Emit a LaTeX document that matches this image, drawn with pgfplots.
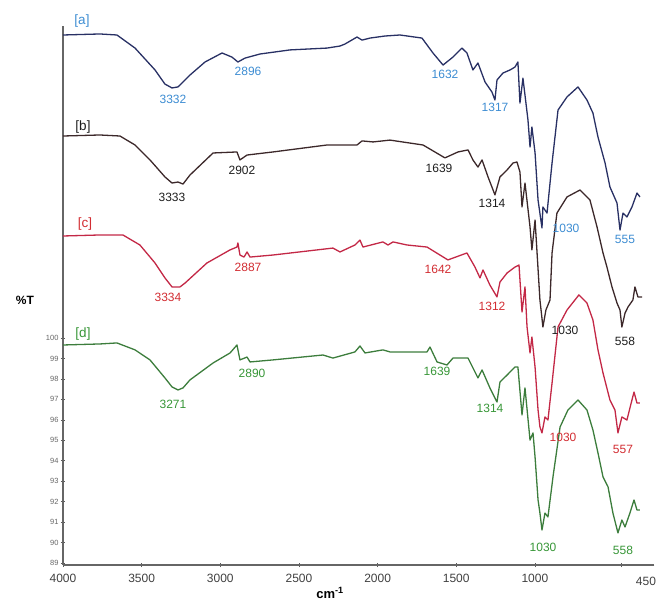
\documentclass[border=0pt]{standalone}
\usepackage{pgfplots}
\pgfplotsset{compat=1.18}
\usepackage{fontspec}
\setmainfont{Liberation Sans}
\definecolor{lineA}{RGB}{40,48,100}
\definecolor{labA}{RGB}{60,140,210}
\definecolor{lineB}{RGB}{60,40,42}
\definecolor{labB}{RGB}{30,30,30}
\definecolor{lineC}{RGB}{195,40,70}
\definecolor{labC}{RGB}{210,45,50}
\definecolor{lineD}{RGB}{60,125,60}
\definecolor{labD}{RGB}{55,150,55}
\begin{document}
\begin{tikzpicture}
\useasboundingbox (0,0) rectangle (658pt,603pt);
\begin{axis}[
  at={(63pt,38pt)}, anchor=south west,
  scale only axis, width=591.45pt, height=539pt,
  x dir=reverse, xmin=240, xmax=4000, ymin=88.9, ymax=115.26,
  axis x line=bottom, axis y line=left,
  axis line style={-, line width=1.1pt, black!60},
  xtick={4000,3500,3000,2500,2000,1500,1000,450},
  xticklabels={4000,3500,3000,2500,2000,1500,1000,{}},
  ytick={89,90,91,92,93,94,95,96,97,98,99,100},
  /pgf/number format/assume math mode=true,
  xticklabel style={font=\fontsize{12}{13}\selectfont, text=black!75, yshift=-4pt},
  yticklabel style={font=\fontsize{7.5}{8}\selectfont, text=black!60, xshift=1pt},
  x tick style={black!65, line width=0.7pt},
  y tick style={black!65, line width=0.6pt},
  tick align=center, major tick length=4pt,
  every axis plot/.append style={line width=1.3pt, line join=round},
  clip=false,
]
\addplot[lineA] coordinates {
(4000,114.82) (3765,114.87) (3657,114.82) (3542,114.18) (3415,113.11) (3352,112.42)
(3307,112.23) (3269,112.28) (3193,112.86) (3097,113.50) (2989,113.94) (2926,113.74)
(2888,113.50) (2843,113.69) (2748,113.89) (2557,114.09) (2322,114.18) (2239,114.28)
(2207,114.38) (2131,114.72) (2099,114.57) (2048,114.67) (1953,114.77) (1858,114.82)
(1718,114.67) (1648,113.94) (1584,113.35) (1521,113.74) (1464,114.18) (1432,113.94)
(1394,113.11) (1362,113.45) (1317,112.52) (1273,112.03) (1254,111.64) (1241,112.62)
(1203,112.96) (1158,113.11) (1127,113.25) (1108,113.50) (1095,111.49) (1076,112.71)
(1044,110.66) (1031,109.34) (1019,110.32) (999,109.05) (980,106.75) (955,105.38)
(949,106.41) (923,106.11) (891,108.56) (853,111.15) (796,111.79) (726,112.28)
(669,111.64) (631,111.00) (599,109.83) (554,108.56) (523,107.39) (478,106.60)
(459,105.28) (440,106.11) (415,105.92) (383,106.41) (351,107.09) (332,106.90)
};
\addplot[lineB] coordinates {
(4000,109.88) (3765,109.93) (3638,109.88) (3542,109.44) (3447,108.71) (3352,107.88)
(3307,107.58) (3269,107.63) (3237,107.53) (3193,107.97) (3046,109.05) (2894,109.10)
(2875,108.71) (2830,108.95) (2665,109.10) (2322,109.44) (2131,109.44) (2099,109.64)
(2029,109.59) (1921,109.68) (1711,109.44) (1572,108.81) (1489,109.10) (1425,109.20)
(1394,108.71) (1362,108.36) (1336,108.71) (1298,107.88) (1254,107.00) (1222,107.88)
(1177,108.22) (1139,108.56) (1114,108.61) (1095,108.12) (1082,106.41) (1063,107.58)
(1031,105.43) (1019,104.31) (999,105.77) (968,101.86) (949,100.54) (930,101.37)
(904,101.86) (891,104.16) (860,106.11) (796,106.90) (713,107.24) (650,106.75)
(605,105.43) (567,104.16) (542,103.47) (510,102.50) (478,101.71) (459,101.37)
(447,100.54) (427,101.22) (408,101.52) (377,101.86) (364,102.50) (345,102.01) (319,102.01)
};
\addplot[lineC] coordinates {
(4000,104.99) (3765,105.04) (3619,105.04) (3511,104.55) (3415,103.67) (3352,102.94)
(3307,102.50) (3256,102.50) (3224,102.69) (3085,103.67) (2938,104.31) (2894,104.45)
(2888,104.65) (2875,104.06) (2849,103.96) (2830,104.21) (2811,103.96) (2665,104.06)
(2284,104.40) (2239,104.21) (2144,104.55) (2112,104.79) (2093,104.45) (1966,104.70)
(1934,104.55) (1902,104.70) (1813,104.55) (1686,104.45) (1553,103.82) (1432,104.16)
(1381,103.47) (1349,102.94) (1330,103.33) (1286,102.59) (1241,102.01) (1222,102.74)
(1177,103.18) (1127,103.47) (1101,103.57) (1082,101.27) (1063,102.50) (1050,100.54)
(1031,99.27) (1019,100.05) (999,98.58) (980,96.48) (968,95.65) (955,95.36)
(936,96.14) (917,95.99) (891,97.80) (853,100.54) (796,101.37) (720,102.11)
(669,101.71) (631,100.88) (599,99.42) (567,98.29) (523,96.97) (491,96.48)
(472,95.36) (447,96.14) (415,95.99) (383,96.97) (370,97.36) (351,96.82) (332,96.82)
};
\addplot[lineD] coordinates {
(4000,99.66) (3765,99.71) (3657,99.76) (3542,99.42) (3447,98.93) (3352,98.05)
(3307,97.61) (3269,97.46) (3237,97.56) (3193,97.95) (3046,98.78) (2938,99.27)
(2894,99.66) (2875,98.93) (2830,99.07) (2811,98.83) (2665,98.93) (2347,99.17)
(2284,99.02) (2144,99.32) (2112,99.61) (2080,99.27) (1966,99.42) (1921,99.32)
(1813,99.32) (1686,99.32) (1667,99.56) (1622,98.83) (1559,98.68) (1521,99.02)
(1425,99.02) (1362,98.05) (1336,98.44) (1286,97.56) (1241,96.87) (1222,97.85)
(1177,98.19) (1127,98.58) (1108,98.58) (1082,96.24) (1063,97.56) (1031,95.01)
(1012,95.36) (999,94.18) (980,92.08) (968,91.44) (955,90.61) (936,91.44)
(917,91.25) (885,93.21) (840,95.65) (790,96.48) (726,96.97) (669,96.48)
(631,95.50) (599,94.38) (567,93.21) (535,92.72) (504,91.44) (472,90.47)
(447,91.10) (427,90.76) (396,91.44) (370,92.08) (351,91.59) (332,91.59)
};
\end{axis}
\begin{scope}[every node/.style={font=\fontsize{12}{13}\selectfont, inner sep=0pt}]
\node[text=labA, font=\fontsize{13.5}{14}\selectfont] at (82pt,582pt) {[a]};
\node[text=labA] at (173pt,504pt) {3332};
\node[text=labA] at (248pt,532pt) {2896};
\node[text=labA] at (445pt,529pt) {1632};
\node[text=labA] at (495pt,496pt) {1317};
\node[text=labA] at (566pt,375pt) {1030};
\node[text=labA] at (625pt,364pt) {555};
\node[text=labB, font=\fontsize{13.5}{14}\selectfont] at (83pt,476pt) {[b]};
\node[text=labB] at (172pt,406pt) {3333};
\node[text=labB] at (242pt,433pt) {2902};
\node[text=labB] at (439pt,435pt) {1639};
\node[text=labB] at (492pt,400pt) {1314};
\node[text=labB] at (565pt,273pt) {1030};
\node[text=labB] at (625pt,262pt) {558};
\node[text=labC, font=\fontsize{13.5}{14}\selectfont] at (85pt,379pt) {[c]};
\node[text=labC] at (168pt,306pt) {3334};
\node[text=labC] at (248pt,336pt) {2887};
\node[text=labC] at (438pt,334pt) {1642};
\node[text=labC] at (492pt,297pt) {1312};
\node[text=labC] at (563pt,166pt) {1030};
\node[text=labC] at (623pt,154pt) {557};
\node[text=labD, font=\fontsize{13.5}{14}\selectfont] at (83pt,269pt) {[d]};
\node[text=labD] at (173pt,199pt) {3271};
\node[text=labD] at (252pt,230pt) {2890};
\node[text=labD] at (437pt,232pt) {1639};
\node[text=labD] at (490pt,195pt) {1314};
\node[text=labD] at (543pt,56pt) {1030};
\node[text=labD] at (623pt,53pt) {558};
\node[text=black!75] at (646pt,22pt) {450};
\node[font=\bfseries\fontsize{12}{13}\selectfont] at (25pt,303pt) {\%T};
\node[font=\bfseries\fontsize{13}{14}\selectfont] at (330pt,10pt) {cm\textsuperscript{-1}};
\end{scope}
\end{tikzpicture}
\end{document}
